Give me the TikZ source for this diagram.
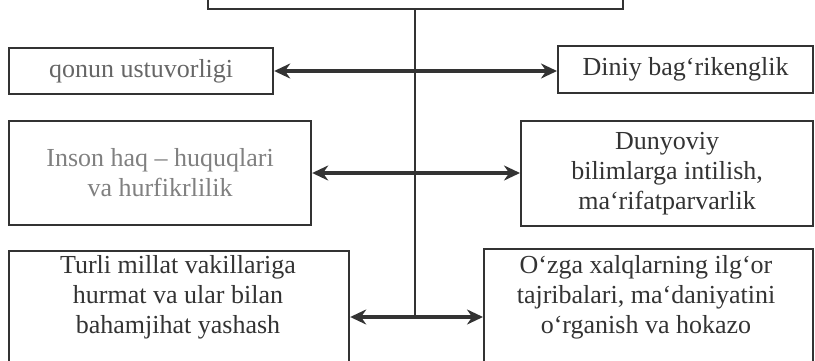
\documentclass[tikz,border=0pt]{standalone}
\usepackage{fontspec}
\setmainfont{Liberation Serif}
\usetikzlibrary{arrows.meta}

\begin{document}
\begin{tikzpicture}[
  x=0.5pt, y=-0.5pt,
  box/.style={draw=black!80, line width=1.1pt, inner sep=0pt, align=center,
    text=black!80, font=\fontsize{13}{15}\selectfont},
  txt/.style={align=center, text=black!80, font=\fontsize{13}{15}\selectfont},
  link/.style={line width=1.6pt, draw=black!80,
    {Stealth[length=8pt,width=7.5pt]}-{Stealth[length=8pt,width=7.5pt]}},
]
\clip (0,0) rectangle (815,360);

\coordinate (row1) at (415,71);
\coordinate (row2) at (415,173);
\coordinate (row3) at (415,317);

\node [box, minimum width=207.5pt, minimum height=40pt, anchor=south west] (top) at (207,10) {};

\node [box, minimum width=132pt, minimum height=23pt, anchor=north west, text=black!60] (qonun) at (8,47) {qonun ustuvorligi};
\node [box, minimum width=127.5pt, minimum height=23.5pt, anchor=north west] (diniy) at (557,45) {Diniy bag`rikenglik};

\node [box, minimum width=151pt, minimum height=52pt, anchor=north west, text=black!50] (inson) at (8,120) {Inson haq -- huquqlari\\va hurfikrlilik};
\node [box, minimum width=146pt, minimum height=52.5pt, anchor=north west] (dunyo) at (520,120) {Dunyoviy\\bilimlarga intilish,\\ma`rifatparvarlik};

\node [box, minimum width=170pt, minimum height=70pt, anchor=north west] (turli) at (8,250) {};
\node [box, minimum width=164.5pt, minimum height=70pt, anchor=north west] (ozga) at (483,248) {};
\node [txt] (turlitxt) at (178,297) {Turli millat vakillariga\\hurmat va ular bilan\\bahamjihat yashash};
\node [txt] (ozgatxt) at (646,297) {O`zga xalqlarning ilg`or\\tajribalari, ma`daniyatini\\o`rganish va hokazo};

\draw [line width=1pt, black!80] (top.south -| row3) -- (row3);

\draw [link] (row1 -| qonun.east) -- (row1 -| diniy.west);
\draw [link] (row2 -| inson.east) -- (row2 -| dunyo.west);
\draw [link] (row3 -| turli.east) -- (row3 -| ozga.west);

\end{tikzpicture}
\end{document}
